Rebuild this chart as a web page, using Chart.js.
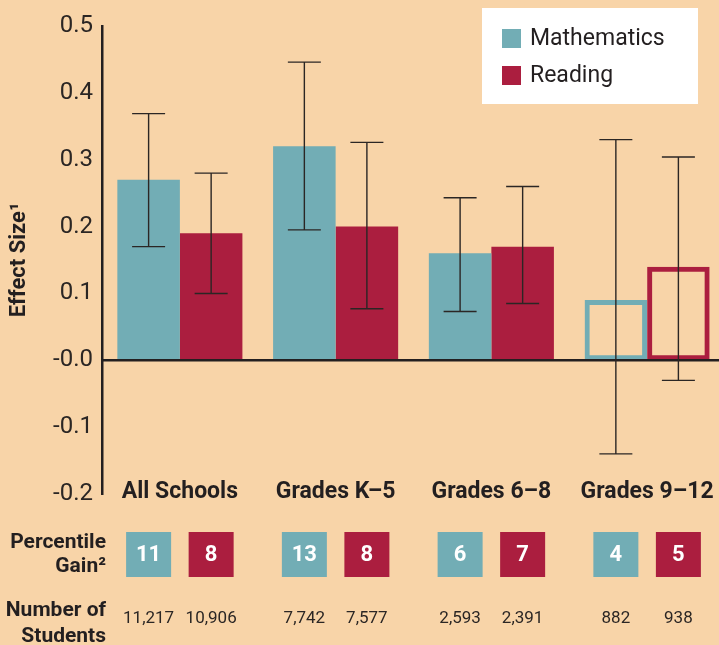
<!DOCTYPE html>
<html>
<head>
<meta charset="utf-8">
<script src="https://cdn.jsdelivr.net/npm/chart.js@4.4.1/dist/chart.umd.min.js"></script>
<style>
  html, body { margin: 0; padding: 0; background: #f8d4a8; overflow: hidden; }
  #wrap { width: 719px; height: 645px; overflow: hidden; }
</style>
</head>
<body>
<div id="wrap"><canvas id="effectChart" width="725" height="645"></canvas></div>
<script>
// values
const categories = ['All Schools', 'Grades K\u20135', 'Grades 6\u20138', 'Grades 9\u201312'];
const mathEffect = [0.27, 0.32, 0.16, 0.09];
const mathLow = [0.17, 0.195, 0.073, -0.14];
const mathHigh = [0.369, 0.446, 0.243, 0.33];
const readEffect = [0.19, 0.20, 0.17, 0.14];
const readLow = [0.10, 0.077, 0.085, -0.03];
const readHigh = [0.28, 0.326, 0.26, 0.304];
const hollow = [false, false, false, true];
const mathGain = [11, 13, 6, 4];
const readGain = [8, 8, 7, 5];
const mathStudents = ['11,217', '7,742', '2,593', '882'];
const readStudents = ['10,906', '7,577', '2,391', '938'];
const yTicks = [0.5, 0.4, 0.3, 0.2, 0.1, 0.0, -0.1, -0.2];
const yTickLabels = ['0.5', '0.4', '0.3', '0.2', '0.1', '-0.0', '-0.1', '-0.2'];

const TEAL = '#72adb5';
const RED = '#ab1e3f';
const INK = '#231f20';
const FONT = 'Roboto, "DejaVu Sans", sans-serif';

const errorBars = {
    id: 'errorBars',
    afterDatasetsDraw(chart) {
        const ctx = chart.ctx;
        const y = chart.scales.y;
        const area = chart.chartArea;
        const ranges = [[mathLow, mathHigh], [readLow, readHigh]];

        // zero line
        ctx.save();
        ctx.strokeStyle = INK;
        ctx.lineWidth = 2.5;
        ctx.beginPath();
        ctx.moveTo(area.left, y.getPixelForValue(0));
        ctx.lineTo(area.right, y.getPixelForValue(0));
        ctx.stroke();

        ctx.strokeStyle = '#2b2624';
        ctx.lineWidth = 1.4;
        ranges.forEach((r, d) => {
            chart.getDatasetMeta(d).data.forEach((bar, i) => {
                const top = y.getPixelForValue(r[1][i]);
                const bot = y.getPixelForValue(r[0][i]);
                ctx.beginPath();
                ctx.moveTo(bar.x, top); ctx.lineTo(bar.x, bot);
                ctx.moveTo(bar.x - 16.5, top); ctx.lineTo(bar.x + 16.5, top);
                ctx.moveTo(bar.x - 16.5, bot); ctx.lineTo(bar.x + 16.5, bot);
                ctx.stroke();
            });
        });
        ctx.restore();
    },
    afterDraw(chart) {
        const ctx = chart.ctx;
        ctx.save();

        // legend box
        ctx.fillStyle = '#ffffff';
        ctx.fillRect(482, 8, 216, 96);
        chart.data.datasets.forEach((ds, d) => {
            const ly = 29 + d * 37;
            ctx.fillStyle = ds.borderColor;
            ctx.fillRect(502, ly, 19, 19);
            ctx.fillStyle = INK;
            ctx.font = '23px ' + FONT;
            ctx.textAlign = 'left';
            ctx.textBaseline = 'middle';
            ctx.fillText(ds.label, 530, ly + 10);
        });

        // category labels
        ctx.fillStyle = INK;
        ctx.font = 'bold 23px ' + FONT;
        ctx.textAlign = 'center';
        ctx.textBaseline = 'middle';
        categories.forEach((c, i) => {
            ctx.fillText(c, chart.scales.x.getPixelForValue(i), 492);
        });

        // row headings
        ctx.font = 'bold 21px ' + FONT;
        ctx.textAlign = 'right';
        ctx.fillText('Percentile', 106, 543);
        ctx.fillText('Gain\u00b2', 106, 567);
        ctx.fillText('Number of', 106, 611);
        ctx.fillText('Students', 106, 637);

        // percentile gain boxes and student counts
        const gains = [mathGain, readGain];
        const counts = [mathStudents, readStudents];
        chart.data.datasets.forEach((ds, d) => {
            chart.getDatasetMeta(d).data.forEach((bar, i) => {
                ctx.fillStyle = ds.borderColor;
                ctx.fillRect(bar.x - 22.5, 532, 45, 45);
                ctx.fillStyle = '#ffffff';
                ctx.font = 'bold 22px ' + FONT;
                ctx.textAlign = 'center';
                ctx.fillText(String(gains[d][i]), bar.x, 555);
                ctx.fillStyle = '#2b2624';
                ctx.font = '17px ' + FONT;
                ctx.fillText(counts[d][i], bar.x, 619);
            });
        });
        ctx.restore();
    }
};

new Chart(document.getElementById('effectChart'), {
    type: 'bar',
    data: {
        labels: categories,
        datasets: [
            {
                label: 'Mathematics',
                data: mathEffect,
                backgroundColor: hollow.map(h => h ? 'rgba(0,0,0,0)' : TEAL),
                borderColor: TEAL,
                borderWidth: hollow.map(h => h ? 5 : 0),
                borderSkipped: false
            },
            {
                label: 'Reading',
                data: readEffect,
                backgroundColor: hollow.map(h => h ? 'rgba(0,0,0,0)' : RED),
                borderColor: RED,
                borderWidth: hollow.map(h => h ? 5 : 0),
                borderSkipped: false
            }
        ]
    },
    options: {
        responsive: false,
        animation: false,
        categoryPercentage: 0.803,
        barPercentage: 1.0,
        layout: { padding: { top: 26, right: 0, bottom: 151, left: 0 } },
        plugins: {
            legend: { display: false },
            tooltip: { enabled: false }
        },
        scales: {
            x: { display: false },
            y: {
                min: -0.2,
                max: 0.5,
                afterBuildTicks: (scale) => { scale.ticks = yTicks.map(v => ({ value: v })); },
                afterFit: (scale) => { scale.width = 102; },
                grid: { display: false, drawTicks: false },
                border: { display: true, color: INK, width: 2.5 },
                ticks: {
                    padding: 9,
                    color: '#2b2624',
                    font: { family: FONT, size: 24 },
                    callback: (v, i) => yTickLabels[i]
                },
                title: {
                    display: true,
                    text: 'Effect Size\u00b9',
                    color: INK,
                    font: { family: FONT, size: 22, weight: 'bold' },
                    padding: { top: 6, bottom: 0 }
                }
            }
        }
    },
    plugins: [errorBars]
});
</script>
</body>
</html>
